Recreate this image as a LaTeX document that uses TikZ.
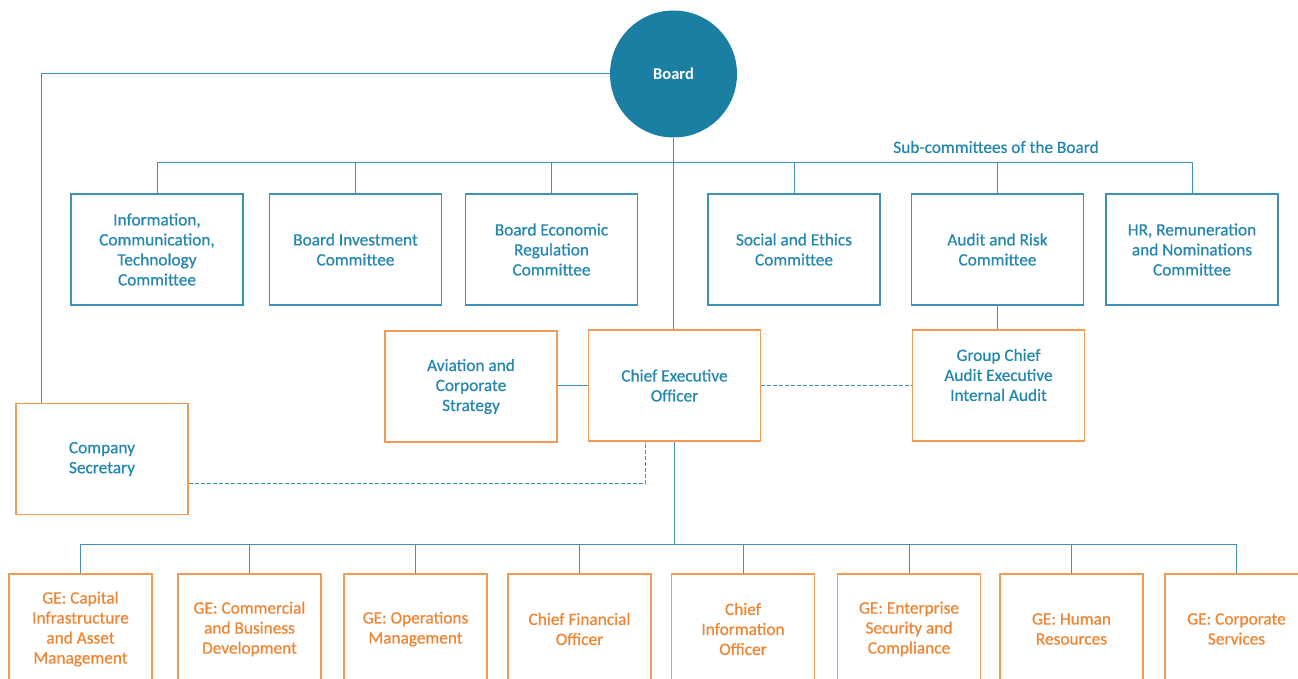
\documentclass[tikz,border=0pt]{standalone}
\usepackage{fontspec}
\setmainfont{Carlito}
\newfontfamily\semifont[FakeBold=0.6]{Carlito}
\definecolor{boardC}{HTML}{1A7FA3}
\definecolor{tealtxt}{HTML}{2487AE}
\definecolor{lineC}{HTML}{3F91B5}
\definecolor{orng}{HTML}{F39A56}
\definecolor{orngtxt}{HTML}{EF8533}
\begin{document}
\begin{tikzpicture}[x=1pt,y=-1pt,
  txt/.style={font=\semifont\fontsize{17.3}{20}\selectfont, align=center, inner sep=0pt},
  comm/.style={txt, draw=lineC, line width=1.2pt, minimum width=172pt, minimum height=111pt, text=tealtxt},
  mid/.style={txt, draw=orng, line width=1.2pt, minimum width=172pt, minimum height=111pt, text=tealtxt},
  ge/.style={txt, draw=orng, line width=1.2pt, minimum width=143pt, minimum height=110pt, text=orngtxt},
  conn/.style={draw=lineC, line width=1pt},
  dconn/.style={draw=lineC, line width=1pt, dash pattern=on 4pt off 2pt}]
\fill[white] (0,0) rectangle (1298,679);
\useasboundingbox (0,0) rectangle (1298,679);
\clip (0,0) rectangle (1298,679);

% Board
\node[circle, fill=boardC, minimum size=127pt, inner sep=0pt, text=white, font=\fontsize{16.5}{20}\selectfont\bfseries] (board) at (673.5,74) {Board};

% committees
\node[comm] (c1) at (157,249.5) {Information,\\Communication,\\Technology\\Committee};
\node[comm] (c2) at (355.5,249.5) {Board Investment\\Committee};
\node[comm] (c3) at (551.5,249.5) {Board Economic\\Regulation\\Committee};
\node[comm] (c4) at (794,249.5) {Social and Ethics\\Committee};
\node[comm] (c5) at (997.5,249.5) {Audit and Risk\\Committee};
\node[comm] (c6) at (1192,249.5) {HR, Remuneration\\and Nominations\\Committee};
\node[txt, text=tealtxt] (subc) at (996,147) {Sub-committees of the Board};

% middle row
\node[mid] (av) at (471,386.5) {Aviation and\\Corporate\\Strategy};
\node[mid] (ceo) at (674.5,385.5) {Chief Executive\\Officer};
\node[mid] (gca) at (998.5,385.5) {};
\node[txt, text=tealtxt] (gcat) at ([yshift=10.5pt]gca.center) {Group Chief\\Audit Executive\\Internal Audit};
\node[mid] (cs) at (102,459) {Company\\Secretary};

% bottom row
\node[ge] (b1) at (80.5,629) {GE: Capital\\Infrastructure\\and Asset\\Management};
\node[ge] (b2) at (249.5,629) {GE: Commercial\\and Business\\Development};
\node[ge] (b3) at (415.5,629) {GE: Operations\\Management};
\node[ge] (b4) at (579.5,629) {Chief Financial\\Officer};
\node[ge] (b5) at (743,629) {Chief\\Information\\Officer};
\node[ge] (b6) at (909,629) {GE: Enterprise\\Security and\\Compliance};
\node[ge] (b7) at (1071.5,629) {GE: Human\\Resources};
\node[ge] (b8) at (1236.5,629) {GE: Corporate\\Services};

% connectors
\coordinate (busT) at (0,163);
\coordinate (busB) at (0,544);
\draw[conn] (board.west) -| ([xshift=26pt]cs.north west);
\draw[conn] (board.south) -- (board.south |- ceo.north);
\draw[conn] (c1.north) -- (c1.north |- busT) -- (c6.north |- busT) -- (c6.north);
\foreach \n in {c2,c3,c4,c5} \draw[conn] (\n.north) -- (\n.north |- busT);
\draw[conn] (c5.south) -- (c5.south |- gca.north);
\draw[conn] (av.east |- ceo.west) -- (ceo.west);
\draw[dconn] (ceo.east) -- (ceo.east -| gca.west);
\draw[dconn] ([yshift=-24pt]cs.east) -| ([xshift=-29pt]ceo.south);
\draw[conn] (ceo.south) -- (ceo.south |- busB);
\draw[conn] (b1.north) -- (b1.north |- busB) -- (b8.north |- busB) -- (b8.north);
\foreach \n in {b2,b3,b4,b5,b6,b7} \draw[conn] (\n.north) -- (\n.north |- busB);
\end{tikzpicture}
\end{document}
